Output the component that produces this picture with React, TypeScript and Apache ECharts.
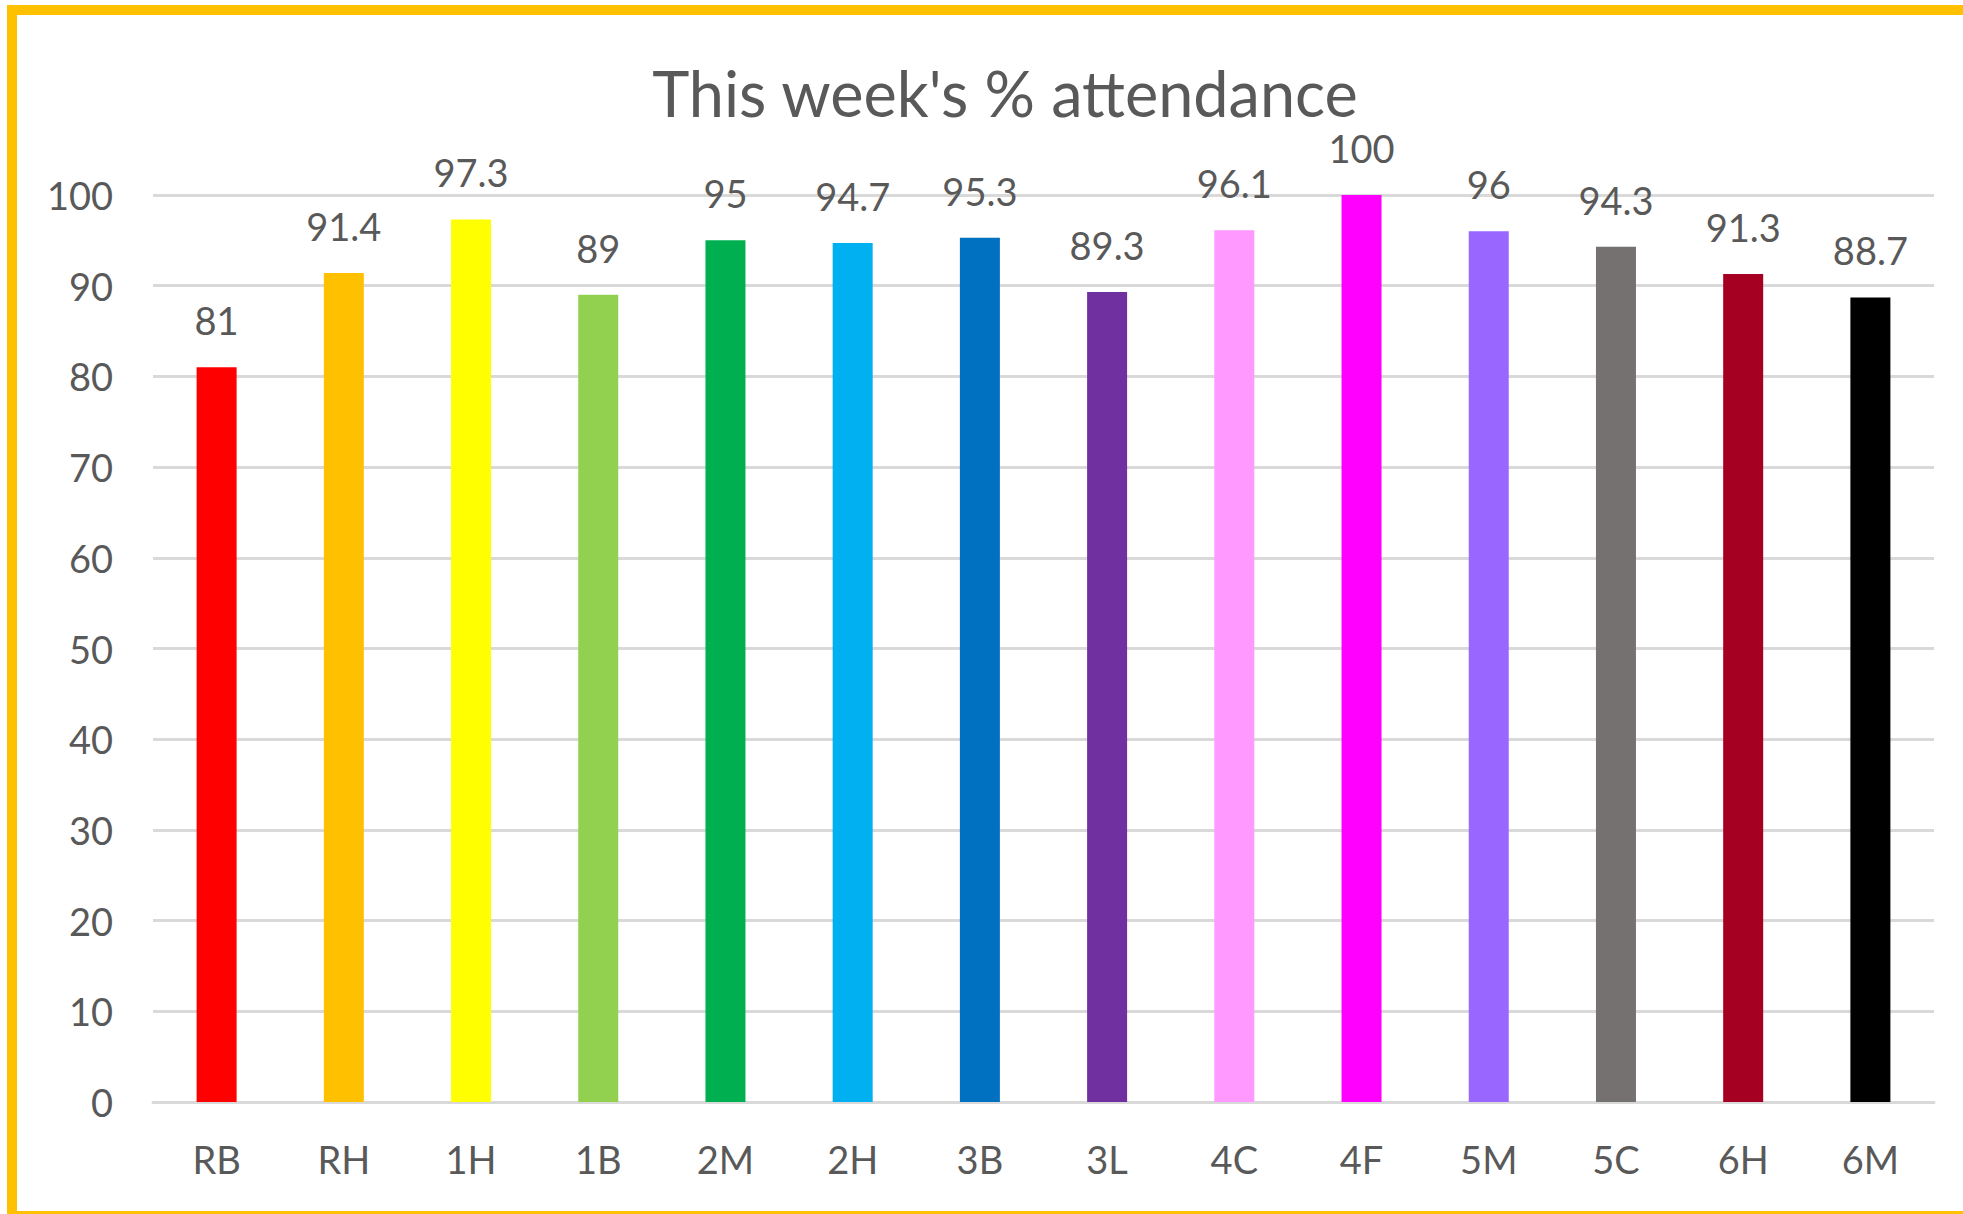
import React, { useEffect, useRef } from "react";
import * as echarts from "echarts";

const categories = ["RB", "RH", "1H", "1B", "2M", "2H", "3B", "3L", "4C", "4F", "5M", "5C", "6H", "6M"];
const values = [81, 91.4, 97.3, 89, 95, 94.7, 95.3, 89.3, 96.1, 100, 96, 94.3, 91.3, 88.7];
const barColors = [
  "#FF0000", "#FFC000", "#FFFF00", "#92D050", "#00B050", "#00B0F0", "#0070C0",
  "#7030A0", "#FF99FF", "#FF00FF", "#9966FF", "#767171", "#A50021", "#000000",
];
const titleText = "This week's % attendance";

export default function App() {
  const ref = useRef<HTMLDivElement>(null);
  useEffect(() => {
    if (!ref.current) return;
    const chart = echarts.init(ref.current, null, { renderer: "svg" });
    const font = "Lato";
    const textColor = "#595959";
    chart.setOption({
      animation: false,
      backgroundColor: "#FFFFFF",
      title: {
        text: titleText,
        left: 1000,
        top: 56,
        textAlign: "center",
        textStyle: { fontFamily: font, fontSize: 63, fontWeight: "normal", color: textColor },
      },
      graphic: [
        {
          type: "rect",
          shape: { x: 12, y: 10, width: 2000, height: 1206 },
          style: { fill: "none", stroke: "#FFC000", lineWidth: 10 },
          silent: true,
          z: 100,
        },
      ],
      grid: { left: 153, right: 29, top: 195, bottom: 112, containLabel: false },
      xAxis: {
        type: "category",
        data: categories,
        axisLine: { show: true, lineStyle: { color: "#D9D9D9", width: 3 } },
        axisTick: { show: false },
        axisLabel: { fontFamily: font, fontSize: 38, color: textColor, margin: 38 },
      },
      yAxis: {
        type: "value",
        min: 0,
        max: 100,
        interval: 10,
        axisLine: { show: false },
        axisTick: { show: false },
        splitLine: { lineStyle: { color: "#D9D9D9", width: 3 } },
        axisLabel: { fontFamily: font, fontSize: 38, color: textColor, margin: 40 },
      },
      series: [
        {
          type: "bar",
          barWidth: 40,
          data: values.map((v, i) => ({ value: v, itemStyle: { color: barColors[i] } })),
          label: {
            show: true,
            position: "top",
            distance: 28,
            fontFamily: font,
            fontSize: 38,
            color: textColor,
          },
        },
      ],
    });
    return () => chart.dispose();
  }, []);
  return (
    <div
      ref={ref}
      style={{ position: "fixed", left: 0, top: 0, width: 1963, height: 1214, background: "#fff" }}
    />
  );
}
